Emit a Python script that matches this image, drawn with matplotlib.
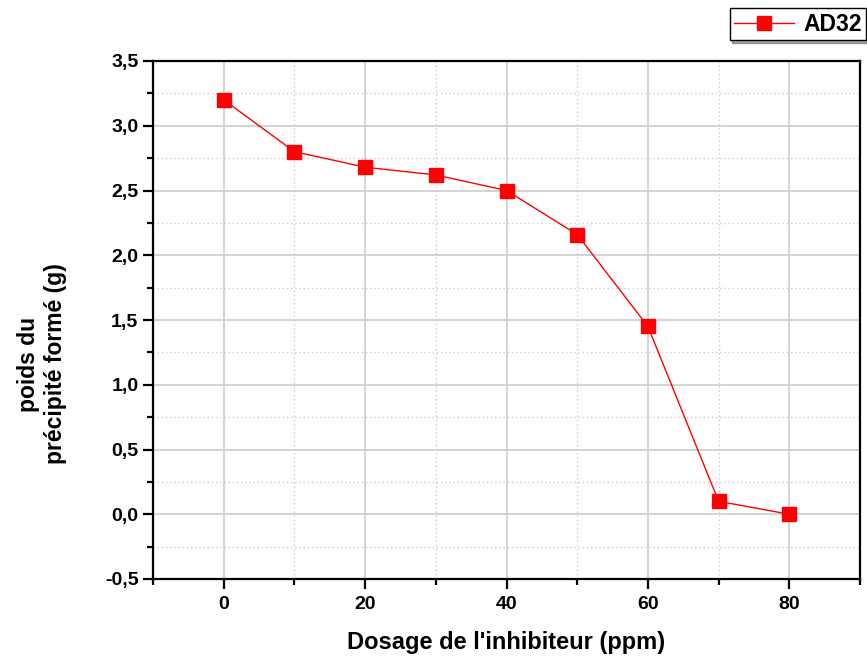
import matplotlib
matplotlib.use("Agg")
import matplotlib.pyplot as plt
from matplotlib.ticker import MultipleLocator, FuncFormatter

plt.rcParams["font.family"] = ["Liberation Sans", "DejaVu Sans"]
plt.rcParams["font.weight"] = "bold"

dosage = [0, 10, 20, 30, 40, 50, 60, 70, 80]
poids = [3.2, 2.8, 2.68, 2.62, 2.5, 2.16, 1.45, 0.1, 0.0]
serie = "AD32"


def main():
    fig = plt.figure(figsize=(8.67, 6.61), dpi=100)
    ax = fig.add_axes([153 / 867, 1 - 579 / 661, (860 - 153) / 867, (579 - 61) / 661])

    ax.plot(dosage, poids, color="red", lw=1, marker="s", markersize=9.5,
            markerfacecolor="red", markeredgecolor="red", label=serie, zorder=3)

    ax.set_xlim(-10, 90)
    ax.set_ylim(-0.5, 3.5)
    ax.xaxis.set_major_locator(MultipleLocator(20))
    ax.xaxis.set_minor_locator(MultipleLocator(10))
    ax.yaxis.set_major_locator(MultipleLocator(0.5))
    ax.yaxis.set_minor_locator(MultipleLocator(0.25))
    ax.yaxis.set_major_formatter(FuncFormatter(lambda v, p: f"{v:.1f}".replace(".", ",")))

    ax.grid(which="major", color="#cccccc", lw=1.2)
    ax.grid(which="minor", color="#cccccc", lw=1, ls=(0, (1, 2)))
    ax.set_axisbelow(True)

    ax.tick_params(which="both", direction="out", top=False, right=False, width=1.6)
    ax.tick_params(which="major", length=7.5, labelsize=14)
    ax.tick_params(axis="x", which="major", pad=5)
    ax.tick_params(axis="y", which="major", pad=3)
    ax.tick_params(which="minor", length=4.5)
    for s in ax.spines.values():
        s.set_linewidth(1.6)

    ax.set_xlabel("Dosage de l'inhibiteur (ppm)", fontsize=17, fontweight="bold")
    ax.set_ylabel("poids du\nprécipité formé (g)", fontsize=16.5, fontweight="bold")
    ax.xaxis.set_label_coords(0.5, -0.1)
    ax.yaxis.set_label_coords(-0.122, 0.415)

    leg = ax.legend(loc="upper right", bbox_to_anchor=(1.0085, 1.102), fontsize=16.5,
                    fancybox=False, shadow=True, edgecolor="black", borderpad=0.2,
                    handlelength=2.6, handletextpad=0.4, borderaxespad=0)
    leg.get_frame().set_linewidth(1)

    fig.savefig("out.png", dpi=100)


if __name__ == "__main__":
    main()
